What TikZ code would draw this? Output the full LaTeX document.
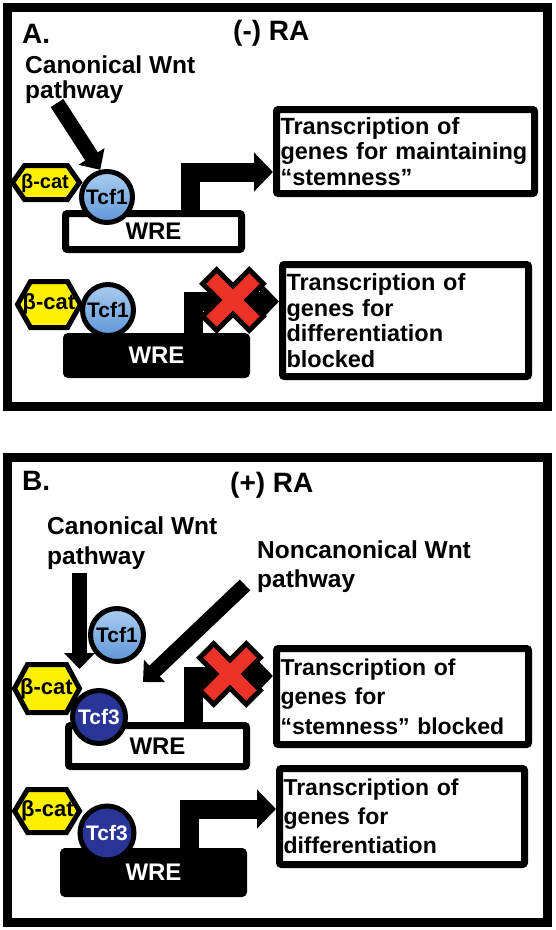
\documentclass[tikz,border=0pt]{standalone}
\usepackage{fontspec}
\setmainfont{Liberation Sans}
\usetikzlibrary{arrows.meta}

\definecolor{catyellow}{RGB}{255,240,0}
\definecolor{tcfpale}{RGB}{170,205,240}
\definecolor{tcflight}{RGB}{95,150,215}
\definecolor{tcfdark}{RGB}{40,52,150}
\definecolor{xred}{RGB}{237,50,40}

\tikzset{
  blockx/.pic={
    \draw[line width=5pt, fill=xred, rotate=45]
      (10,10) -- (33,10) -- (33,-10) -- (10,-10) -- (10,-33) -- (-10,-33)
      -- (-10,-10) -- (-33,-10) -- (-33,10) -- (-10,10) -- (-10,33) -- (10,33) -- cycle;
  }
}

\begin{document}
\begin{tikzpicture}[x=1pt, y=-1pt,
    panelframe/.style={line width=9pt},
    paneltitle/.style={anchor=base west, inner sep=0pt, font=\fontsize{28}{28}\selectfont\bfseries},
    wntlbl/.style={anchor=north west, inner sep=0pt, align=left},
    txtbox/.style={draw, line width=7pt, rounded corners=2pt, inner xsep=4pt, inner ysep=0pt, align=left},
    wre/.style={draw, line width=7pt, rounded corners=2pt, inner sep=0pt, font=\fontsize{24}{24}\selectfont\bfseries},
    cathex/.style={draw, line width=5pt, fill=catyellow},
    cattxt/.style={inner sep=0pt, font=\fontsize{22}{22}\selectfont\bfseries},
    tcf/.style={circle, draw, line width=5pt, inner sep=0pt, minimum size=51pt, font=\fontsize{21}{21}\selectfont\bfseries},
    tcfone/.style={tcf, top color=tcfpale, bottom color=tcflight},
    tcfthree/.style={tcf, fill=tcfdark, text=white},
    bentarrow/.style={line width=19pt, -{Triangle[length=19pt, width=38pt]}},
    wntarrow/.style={line width=15pt, -{Triangle[length=16pt, width=30pt]}}]

    \useasboundingbox (0,0) rectangle (556,930);

    % 绘制 A 面板
    \draw[panelframe] (7.5,7.5) rectangle (547.5,406.5);
    \node[paneltitle] (titleA) at (22,43) {A.};
    \node[paneltitle] (raA) at (233,40) {(-) RA};
    \node[wntlbl, font=\fontsize{24.5}{25}\selectfont\bfseries] (canonA) at (25,56) {Canonical Wnt\\pathway};

    % 右侧文字框
    \node[txtbox, text width=250pt, minimum height=84pt, font=\fontsize{23.5}{25.5}\selectfont\bfseries] (boxA1) at (405.5,151.5) {Transcription of\\genes for maintaining\\“stemness”};
    \node[txtbox, text width=238pt, minimum height=112pt, font=\fontsize{23.5}{25.7}\selectfont\bfseries] (boxA2) at (405.5,320.5) {Transcription of\\genes for\\differentiation\\blocked};

    % WRE
    \node[wre, minimum width=176pt, minimum height=36pt] (wreA1) at (153.5,231.5) {WRE};
    \node[wre, fill=black, text=white, minimum width=180pt, minimum height=38pt] (wreA2) at (156.5,355.5) {WRE};

    % β-cat 六边形
    \draw[cathex] (12.5,182.5) -- (24.5,165.5) -- (67.5,165.5) -- (79.5,182.5) -- (67.5,199.5) -- (24.5,199.5) -- cycle;
    \node[cattxt, font=\fontsize{20}{20}\selectfont\bfseries] (catA1) at (45,183) {β-cat};
    \draw[cathex] (17.5,304.5) -- (30.5,281.5) -- (67.5,281.5) -- (80.5,304.5) -- (67.5,327.5) -- (30.5,327.5) -- cycle;
    \node[cattxt] (catA2) at (49,304) {β-cat};

    % Tcf1
    \node[tcfone] (tcfA1) at (107,197) {Tcf1};
    \node[tcfone] (tcfA2) at (108,310) {Tcf1};

    % 转录箭头
    \coordinate (bendA1) at (190,172);
    \draw[bentarrow] (wreA1.north -| bendA1) -- (bendA1) -- (bendA1 -| boxA1.west);
    \coordinate (bendA2) at (193.5,301.5);
    \draw[bentarrow] (wreA2.north -| bendA2) -- (bendA2) -- (bendA2 -| boxA2.west);
    \pic (xA2) at (233,300) {blockx};

    % Wnt 箭头
    \coordinate (canonAtail) at (57,103);
    \draw[wntarrow] (canonAtail) -- (tcfA1.104);

    % 绘制 B 面板
    \draw[panelframe] (7.5,457.5) rectangle (547.5,922.5);
    \node[paneltitle] (titleB) at (22,490) {B.};
    \node[paneltitle] (raB) at (230,492) {(+) RA};
    \node[wntlbl, font=\fontsize{24.5}{30}\selectfont\bfseries] (canonB) at (47,517) {Canonical Wnt\\pathway};
    \node[wntlbl, font=\fontsize{24.5}{29}\selectfont\bfseries] (noncanB) at (257,541) {Noncanonical Wnt\\pathway};

    % 右侧文字框
    \node[txtbox, text width=244pt, minimum height=96pt, font=\fontsize{23}{29.5}\selectfont\bfseries] (boxB1) at (402.5,696.5) {Transcription of\\genes for\\“stemness” blocked};
    \node[txtbox, text width=237pt, minimum height=96pt, font=\fontsize{23}{29}\selectfont\bfseries] (boxB2) at (402,816.5) {Transcription of\\genes for\\differentiation};

    % WRE
    \node[wre, minimum width=178pt, minimum height=41pt] (wreB1) at (157.5,746) {WRE};
    \node[wre, fill=black, text=white, minimum width=180pt, minimum height=42pt] (wreB2) at (153.5,872.5) {WRE};

    % β-cat 六边形
    \draw[cathex] (14.5,688.5) -- (27.5,664.5) -- (66.5,664.5) -- (79.5,688.5) -- (66.5,712.5) -- (27.5,712.5) -- cycle;
    \node[cattxt] (catB1) at (46.5,689) {β-cat};
    \draw[cathex] (14.5,811) -- (27.5,789.5) -- (66.5,789.5) -- (79.5,811) -- (66.5,832.5) -- (27.5,832.5) -- cycle;
    \node[cattxt] (catB2) at (47.5,811) {β-cat};

    % 经典 Wnt 箭头 (在 Tcf1 下面)
    \coordinate (canonBtail) at (79.5,573);
    \coordinate (canonBtip) at (79.5,669);
    \draw[wntarrow] (canonBtail) -- (canonBtip);

    % Tcf1 与 Tcf3
    \node[tcfone, minimum size=53pt] (tcfB) at (117,635) {Tcf1};
    \node[tcfthree, minimum size=53pt] (tcfB1) at (99,717) {Tcf3};
    \node[tcfthree, minimum size=54pt] (tcfB2) at (107,833) {Tcf3};

    % 非经典 Wnt 箭头
    \coordinate (noncanBtail) at (245,585);
    \coordinate (noncanBtip) at (143,682);
    \draw[wntarrow] (noncanBtail) -- (noncanBtip);

    % 转录箭头
    \coordinate (bendB1) at (193,676);
    \draw[bentarrow] (wreB1.north -| bendB1) -- (bendB1) -- (bendB1 -| boxB1.west);
    \pic (xB1) at (230,674) {blockx};
    \coordinate (bendB2) at (189,809);
    \draw[bentarrow] (wreB2.north -| bendB2) -- (bendB2) -- (bendB2 -| boxB2.west);

\end{tikzpicture}
\end{document}
